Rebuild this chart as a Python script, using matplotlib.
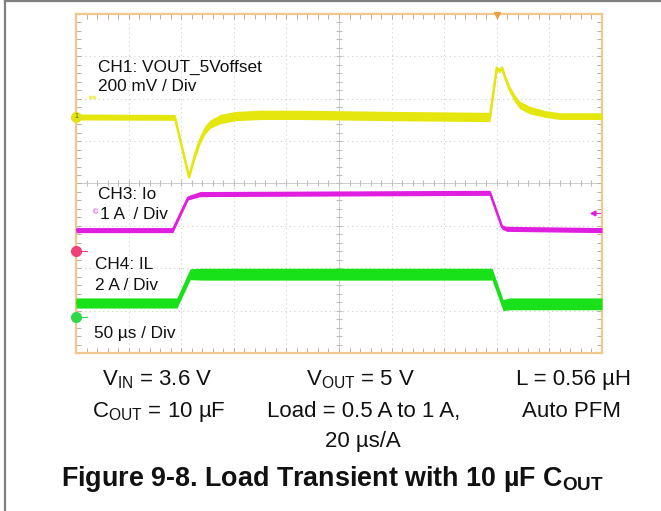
import numpy as np
import matplotlib
matplotlib.use("Agg")
import matplotlib.pyplot as plt
from matplotlib.lines import Line2D

plt.rcParams['font.family'] = ['Liberation Sans', 'DejaVu Sans']
plt.rcParams['mathtext.fontset'] = 'custom'
plt.rcParams['mathtext.rm'] = 'Liberation Sans'
plt.rcParams['mathtext.it'] = 'Liberation Sans'
plt.rcParams['mathtext.bf'] = 'Liberation Sans:bold'

# scope traces, time and level both in divisions (10 x 8 screen)
ch1_t = [0.0, 1.88, 2.15, 2.26, 2.36, 2.45, 2.55, 2.74, 3.02, 3.50, 4.26, 6.16, 7.87,
         8.00, 8.04, 8.10, 8.16, 8.25, 8.35, 8.44, 8.63, 8.92, 9.20, 10.0]
ch1_v = [5.57, 5.56, 4.15, 4.67, 5.03, 5.26, 5.40, 5.52, 5.59, 5.62, 5.62, 5.59, 5.57,
         6.73, 6.66, 6.73, 6.49, 6.21, 5.99, 5.85, 5.73, 5.64, 5.59, 5.59]
ch1_spread = [0.07, 0.07, 0.03, 0.09, 0.10, 0.10, 0.10, 0.11, 0.11, 0.11, 0.11, 0.11, 0.11,
              0.05, 0.05, 0.05, 0.07, 0.08, 0.09, 0.09, 0.09, 0.08, 0.08, 0.08]

ch3_t = [0.0, 1.84, 2.13, 2.36, 7.87, 8.10, 8.19, 10.0]
ch3_v = [2.90, 2.90, 3.66, 3.75, 3.78, 2.97, 2.93, 2.90]
ch3_spread = [0.06, 0.06, 0.05, 0.06, 0.06, 0.05, 0.06, 0.06]

ch4_t = [0.0, 1.92, 2.17, 2.40, 7.91, 8.12, 8.25, 10.0]
ch4_v = [1.18, 1.18, 1.86, 1.86, 1.86, 1.13, 1.16, 1.16]
ch4_spread = [0.12, 0.12, 0.13, 0.14, 0.14, 0.13, 0.14, 0.14]

# channel ground markers on the left edge
marker_levels = [5.57, 2.41, 0.85]
marker_colors = ['#e3e31a', '#f0407a', '#2fd84a']
trigger_time = 8.0

yellow = '#e6e60f'
magenta = '#e01ee0'
green = '#19e119'

fig = plt.figure(figsize=(6.61, 5.11), dpi=100)
W, H = 661, 511

# outer frame of the figure box
fig.add_artist(Line2D([5 / W, 5 / W], [0, 1], color='#7f7f7f', lw=1.6))
fig.add_artist(Line2D([5 / W, 1], [1 - 1.5 / H, 1 - 1.5 / H], color='#7f7f7f', lw=1.6))

ax = fig.add_axes([76 / W, 1 - 353 / H, 526 / W, 339 / H])
ax.set_xlim(0, 10)
ax.set_ylim(0, 8)
for sp in ax.spines.values():
    sp.set_color('#f0c88c')
    sp.set_linewidth(1.6)

# frame ticks, 5 per division
ax.set_xticks(np.arange(0, 10.01, 0.2))
ax.set_yticks(np.arange(0, 8.01, 0.2))
ax.tick_params(direction='in', length=3.5, width=0.7, color='#c0ae96',
               top=True, right=True, labelbottom=False, labelleft=False)

# dotted graticule
for x in range(1, 10):
    if x != 5:
        ax.axvline(x, color='#cfcfcf', lw=0.8, ls=(0, (1, 3)), zorder=1)
for y in range(1, 8):
    if y != 4:
        ax.axhline(y, color='#cfcfcf', lw=0.8, ls=(0, (1, 3)), zorder=1)
ax.axvline(5, color='#cccccc', lw=0.7, zorder=1)
ax.axhline(4, color='#cccccc', lw=0.7, zorder=1)
cross = np.arange(0, 10.01, 0.2)
ax.plot(cross, np.full(len(cross), 4.0), ls='', marker='|', ms=5, mew=0.8, color='#bdbdbd', zorder=1)
cross = np.arange(0, 8.01, 0.2)
ax.plot(np.full(len(cross), 5.0), cross, ls='', marker='_', ms=5, mew=0.8, color='#bdbdbd', zorder=1)

# traces drawn as bands
for t, v, s, c in [(ch1_t, ch1_v, ch1_spread, yellow),
                   (ch3_t, ch3_v, ch3_spread, magenta),
                   (ch4_t, ch4_v, ch4_spread, green)]:
    t = np.array(t)
    v = np.array(v)
    s = np.array(s)
    ax.fill_between(t, v - s, v + s, color=c, lw=0, zorder=3)
    ax.plot(t, v, color=c, lw=1.8, zorder=3)

# level markers
for lvl, c in zip(marker_levels, marker_colors):
    ax.plot([0], [lvl], marker='o', ms=7, color=c, mec=c, clip_on=False, zorder=5)
    ax.plot([0.06, 0.2], [lvl, lvl], color=c, lw=0.8, clip_on=False, zorder=5)
ax.text(0, marker_levels[0], '1', fontsize=5, ha='center', va='center', color='#606000', zorder=6)
ax.plot([0.27, 0.35], [6.04, 6.04], color='#f0f070', lw=2.5, zorder=3)
ax.plot([9.83], [3.30], marker='<', ms=3.5, color=magenta, zorder=5)
ax.plot([9.83, 9.96], [3.30, 3.30], color=magenta, lw=0.8, zorder=5)
ax.text(0.37, 3.30, '©', fontsize=5, color=magenta, ha='center', va='center')
ax.plot([trigger_time], [7.97], marker='v', ms=5, color='#e8a040', clip_on=False, zorder=5)

# channel labels
lab = dict(fontsize=12.4, color='#111111', va='center', zorder=6)
ax.text(0.42, 6.75, 'CH1: VOUT_5Voffset', **lab)
ax.text(0.42, 6.28, '200 mV / Div', **lab)
ax.text(0.42, 3.73, 'CH3: Io', **lab)
ax.text(0.46, 3.26, '1 A  / Div', **lab)
ax.text(0.36, 2.10, 'CH4: IL', **lab)
ax.text(0.36, 1.60, '2 A / Div', **lab)
ax.text(0.34, 0.45, '50 µs / Div', **lab)

# test conditions under the screen
cond = dict(fontsize=16, ha='center', va='baseline', color='#111111')
fig.text(157 / W, 1 - 385 / H, r'V$_{\mathrm{IN}}$ = 3.6 V', **cond)
fig.text(361 / W, 1 - 385 / H, r'V$_{\mathrm{OUT}}$ = 5 V', **cond)
fig.text(573 / W, 1 - 385 / H, 'L = 0.56 µH', **cond)
fig.text(159 / W, 1 - 417 / H, r'C$_{\mathrm{OUT}}$ = 10 µF', **cond)
fig.text(364 / W, 1 - 417 / H, 'Load = 0.5 A to 1 A,', **cond)
fig.text(571 / W, 1 - 417 / H, 'Auto PFM', **cond)
fig.text(363 / W, 1 - 447 / H, '20 µs/A', **cond)

fig.text(332 / W, 1 - 486 / H, r'Figure 9-8. Load Transient with 10 µF C$_{\mathbf{OUT}}$',
         fontsize=19.4, fontweight='bold', ha='center', va='baseline', color='#111111')

fig.savefig('out.png', dpi=100)
